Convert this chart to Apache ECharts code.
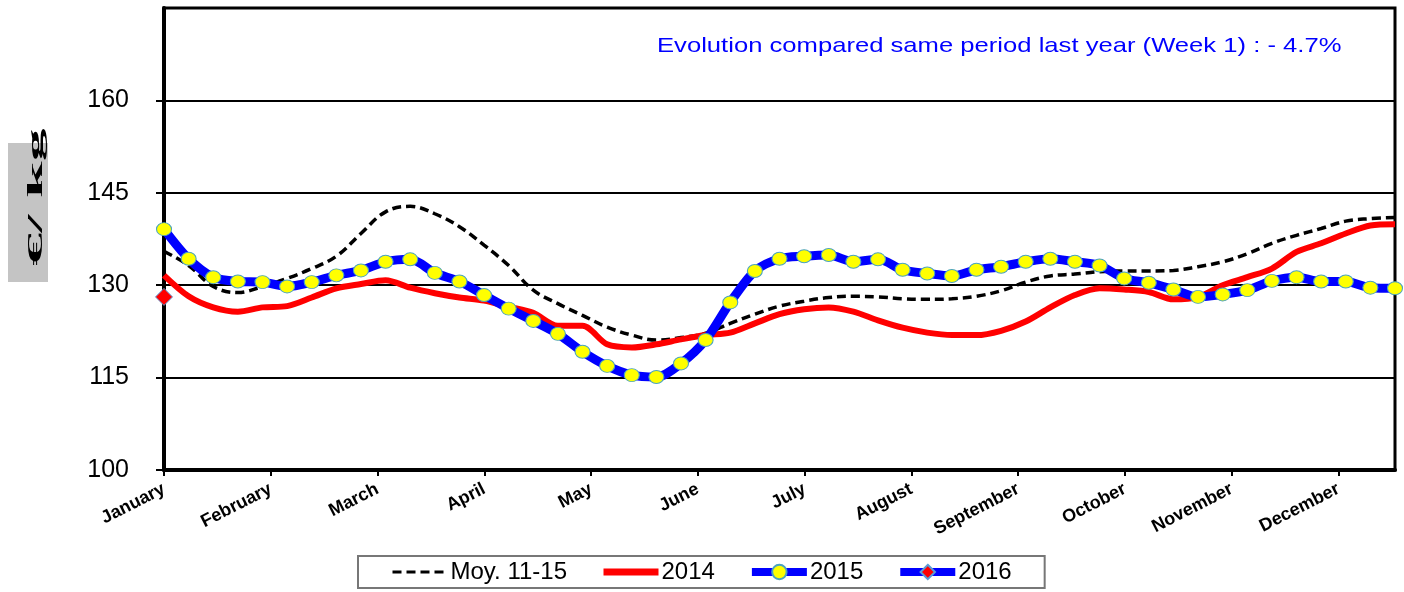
<!DOCTYPE html>
<html>
<head>
<meta charset="utf-8">
<script src="https://cdn.jsdelivr.net/npm/echarts@6/dist/echarts.min.js"></script>
<style>
  html, body { margin: 0; padding: 0; background: #fff; }
  #chart { width: 1404px; height: 592px; }
</style>
</head>
<body>
<div id="chart"></div>
<script>
// weekly price, 51 weeks shown
const months = ['January', 'February', 'March', 'April', 'May', 'June',
    'July', 'August', 'September', 'October', 'November', 'December']

const moy1115 = [135.5, 133.2, 129.8, 128.8, 129.8, 131.1, 132.7, 134.7, 138.4, 141.9,
    142.8, 141.6, 139.5, 136.5, 133.2, 129.2, 127.0, 125.1, 123.2, 121.9,
    121.1, 121.5, 122.2, 123.8, 125.3, 126.6, 127.4, 128.0, 128.2, 128.1,
    127.8, 127.7, 127.8, 128.2, 129.1, 130.5, 131.5, 131.8, 132.2, 132.3,
    132.3, 132.4, 133.0, 133.8, 135.1, 136.8, 138.1, 139.2, 140.4, 140.8, 141.0]

const y2014 = [131.6, 128.2, 126.4, 125.7, 126.4, 126.6, 128.0, 129.5, 130.2, 130.8,
    129.6, 128.7, 128.0, 127.5, 126.5, 125.5, 123.4, 123.4, 120.4, 119.9,
    120.4, 121.2, 121.9, 122.3, 123.8, 125.3, 126.1, 126.4, 125.7, 124.3,
    123.1, 122.3, 121.9, 121.9, 122.6, 124.1, 126.4, 128.4, 129.5, 129.3,
    128.9, 127.7, 128.1, 130.0, 131.3, 132.7, 135.4, 136.8, 138.4, 139.7, 139.9]

const y2015 = [139.1, 134.3, 131.3, 130.6, 130.5, 129.8, 130.5, 131.6, 132.4, 133.8,
    134.2, 132.0, 130.6, 128.4, 126.2, 124.2, 122.1, 119.2, 116.9, 115.4,
    115.1, 117.3, 121.1, 127.2, 132.3, 134.3, 134.7, 134.9, 133.8, 134.2,
    132.5, 131.9, 131.5, 132.5, 133.0, 133.8, 134.3, 133.8, 133.2, 131.1,
    130.4, 129.3, 128.1, 128.5, 129.2, 130.7, 131.3, 130.6, 130.6, 129.6, 129.5]

const y2016 = [128.1]

const yTicks = [100, 115, 130, 145, 160]

// пары [неделя, значение]
function toPairs(arr) {
    let out = []
    for (let i = 0; i < arr.length; i++) {
        out.push([i, arr[i]])
    }
    return out
}

const chart = echarts.init(document.getElementById('chart'))

const options = {
    animation: false,
    textStyle: { fontFamily: 'Liberation Sans, Arial, sans-serif' },
    grid: {
        left: 164,
        right: 9,
        top: 8,
        bottom: 122,
        show: true,
        borderColor: '#000',
        borderWidth: 3,
        backgroundColor: '#fff'
    },
    legend: {
        left: 358,
        top: 556,
        width: 692,
        padding: [4, 33, 4, 33],
        itemGap: 33,
        itemWidth: 55,
        itemHeight: 18,
        backgroundColor: '#fff',
        borderColor: '#777',
        borderWidth: 2,
        textStyle: { fontSize: 24, color: '#000', padding: [0, 0, 0, -2] },
        data: [
            { name: 'Moy. 11-15', lineStyle: { width: 3, type: [9, 5] }, itemStyle: { opacity: 0 } },
            { name: '2014', lineStyle: { width: 7 }, itemStyle: { opacity: 0 } },
            { name: '2015', lineStyle: { width: 8 } },
            { name: '2016', lineStyle: { width: 8 } }
        ]
    },
    graphic: [
        {
            type: 'text',
            left: 657,
            top: 36,
            scaleX: 1.22,
            style: {
                text: 'Evolution compared same period last year (Week 1) : - 4.7%',
                font: '21px Liberation Sans',
                fill: '#0000ff'
            }
        },
        {
            type: 'rect',
            left: 8,
            top: 143,
            shape: { width: 40, height: 139 },
            style: { fill: '#c4c4c4' }
        },
        {
            type: 'text',
            x: 36,
            y: 197,
            rotation: Math.PI / 2,
            scaleX: 3.0,
            style: {
                text: '€/ kg',
                font: 'bold 22px Liberation Serif',
                fill: '#000',
                align: 'center',
                verticalAlign: 'middle'
            }
        }
    ],
    xAxis: [
        {
            type: 'value',
            min: 0,
            max: 50,
            show: false,
            position: 'bottom'
        },
        {
            type: 'value',
            min: 0,
            max: 11.53,
            interval: 1,
            position: 'bottom',
            axisLine: { lineStyle: { color: '#000', width: 4 } },
            axisTick: { show: true, length: 6, lineStyle: { color: '#000', width: 2 } },
            splitLine: { show: false },
            axisLabel: {
                rotate: 27,
                margin: 18,
                fontSize: 18,
                fontWeight: 'bold',
                color: '#000',
                showMaxLabel: false,
                formatter: function (v) {
                    return months[Math.round(v)] || ''
                }
            }
        }
    ],
    yAxis: {
        type: 'value',
        min: yTicks[0],
        max: 175,
        interval: 15,
        axisLine: { show: true, lineStyle: { color: '#000', width: 4 } },
        axisTick: { show: true, length: 8, lineStyle: { color: '#000', width: 2 } },
        splitLine: { lineStyle: { color: '#000', width: 2 } },
        axisLabel: {
            margin: 35,
            fontSize: 25,
            color: '#000',
            showMaxLabel: false
        }
    },
    series: [
        {
            name: 'Moy. 11-15',
            type: 'line',
            xAxisIndex: 0,
            data: toPairs(moy1115),
            smooth: 0.4,
            symbol: 'none',
            color: '#000',
            lineStyle: { color: '#000', width: 3.5, type: [9, 5] },
            z: 2
        },
        {
            name: '2014',
            type: 'line',
            xAxisIndex: 0,
            data: toPairs(y2014),
            smooth: 0.3,
            symbol: 'none',
            color: '#ff0000',
            lineStyle: { color: '#ff0000', width: 6 },
            z: 3
        },
        {
            name: '2015',
            type: 'line',
            xAxisIndex: 0,
            data: toPairs(y2015),
            smooth: 0.3,
            symbol: 'circle',
            symbolSize: [15, 13],
            showAllSymbol: true,
            color: '#0000ff',
            lineStyle: { color: '#0000ff', width: 9 },
            itemStyle: { color: '#ffff00', borderColor: '#4aa3c0', borderWidth: 1 },
            z: 4
        },
        {
            name: '2016',
            type: 'line',
            xAxisIndex: 0,
            data: toPairs(y2016),
            symbol: 'diamond',
            symbolSize: 17,
            color: '#0000ff',
            lineStyle: { color: '#0000ff', width: 9 },
            itemStyle: { color: '#ff0000', borderColor: '#5b9bd5', borderWidth: 1 },
            z: 5
        }
    ]
}

chart.setOption(options)
</script>
</body>
</html>
